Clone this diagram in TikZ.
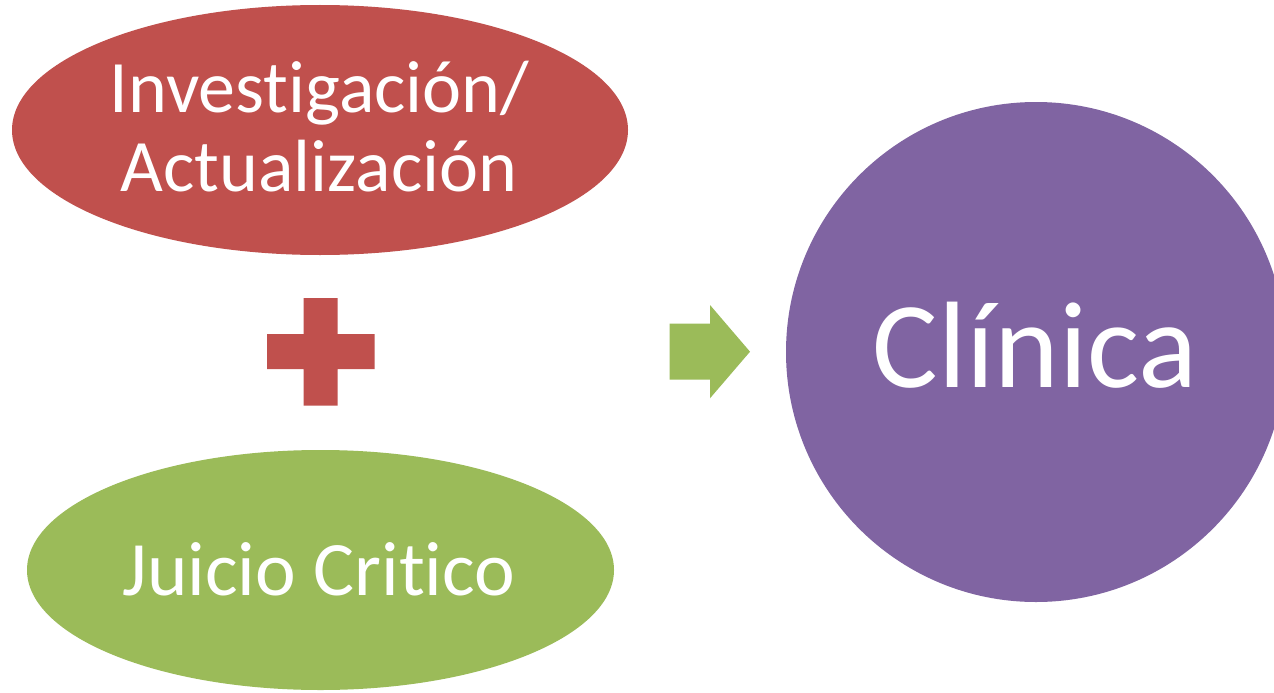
\documentclass[tikz,border=0pt]{standalone}
\usepackage{fontspec}
\setmainfont{Carlito}[Ligatures=NoCommon]
\usetikzlibrary{shapes.geometric}
\definecolor{offred}{HTML}{C0504D}
\definecolor{offgreen}{HTML}{9BBB59}
\definecolor{offpurple}{HTML}{8064A2}
\begin{document}
\begin{tikzpicture}[x=1pt,y=-1pt,
  blob/.style={ellipse,inner sep=0pt,draw=none},
  lbl/.style={anchor=base,text=white,inner sep=0pt},
  midtext/.style={font=\fontsize{74}{80}\selectfont},
  jtext/.style={font=\fontsize{77}{80}\selectfont},
  bigtext/.style={font=\fontsize{123}{130}\selectfont}]
\useasboundingbox (0,0) rectangle (1274,693);
\fill[white] (0,0) rectangle (1274,693);
% ellipses and circle
\node[blob,fill=offred,minimum width=616pt,minimum height=250pt] (e1) at (320,130) {};
\node[blob,fill=offgreen,minimum width=587pt,minimum height=240pt] (e2) at (320.5,570) {};
\begin{scope}
\clip (0,0) rectangle (1274,693);
\node[circle,inner sep=0pt,fill=offpurple,minimum size=500pt] (c1) at (1036,352) {};
\end{scope}
% plus sign
\fill[offred] (303.5,298) -- (337.5,298) -- (337.5,334) -- (374.5,334) -- (374.5,369)
  -- (337.5,369) -- (337.5,405.5) -- (303.5,405.5) -- (303.5,369) -- (267,369)
  -- (267,334) -- (303.5,334) -- cycle;
% block arrow
\fill[offgreen] (669.5,323.5) -- (710,323.5) -- (710,305) -- (750,351.7)
  -- (710,398.3) -- (710,379.7) -- (669.5,379.7) -- cycle;
% texts
\node[lbl,midtext] (t1) at (319.5,112) {Investigación/};
\node[lbl,midtext] (t2) at (319,191) {Actualización};
\node[lbl,jtext] (t3) at (319,595) {Juicio Critico};
\node[lbl,bigtext] (t4) at (1035,387) {Clínica};
\end{tikzpicture}
\end{document}
